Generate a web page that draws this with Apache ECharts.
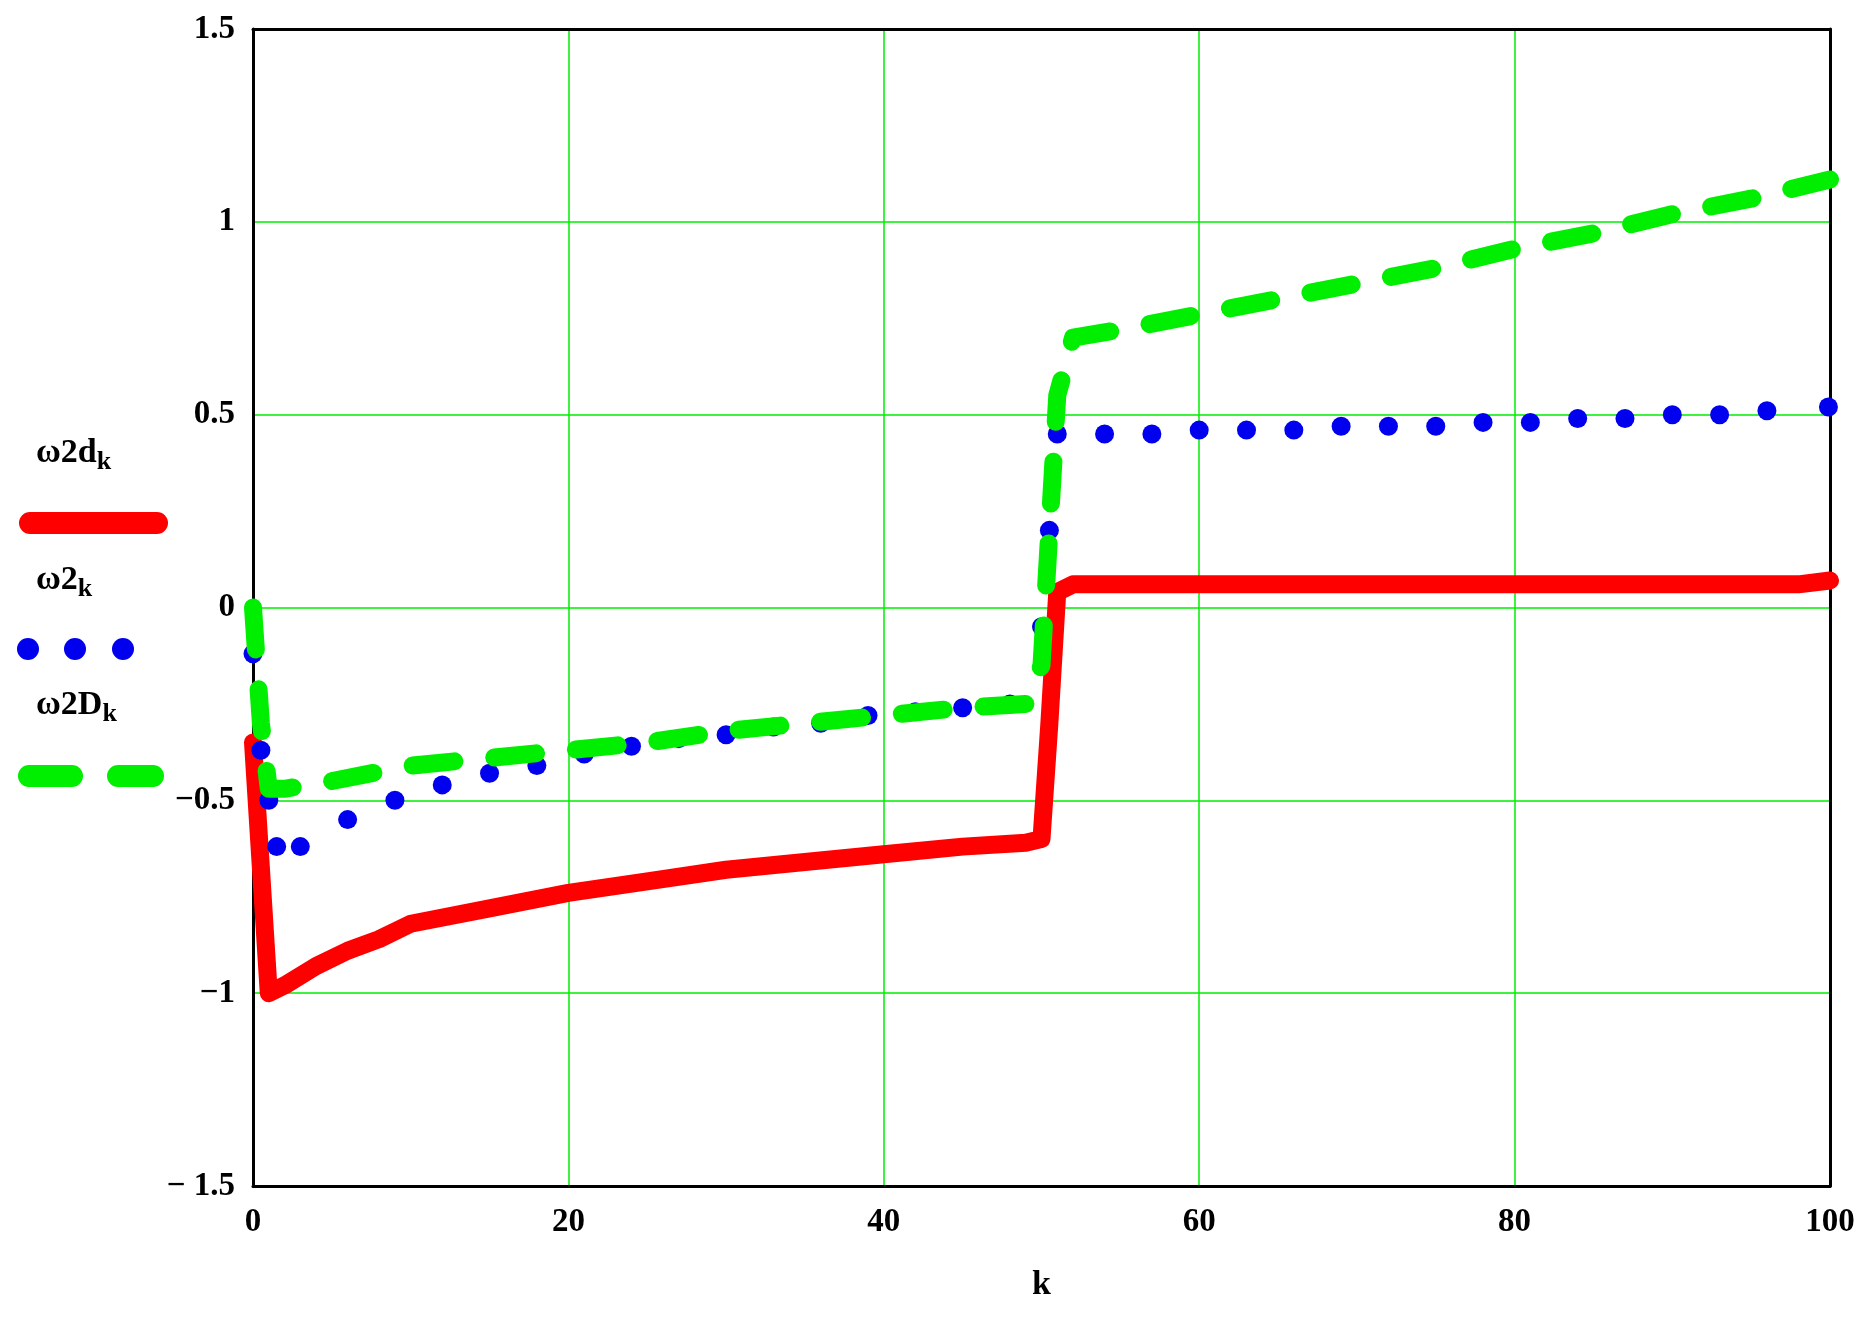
<!DOCTYPE html>
<html><head><meta charset="utf-8">
<script src="https://cdn.jsdelivr.net/npm/echarts@6/dist/echarts.min.js"></script>
<style>html,body{margin:0;padding:0;background:#fff}#c{width:1875px;height:1317px}</style>
</head><body><div id="c"></div>
<script>
const xTicks = [0, 20, 40, 60, 80, 100];
const yTicks = ['1.5', '1', '0.5', '0', '−0.5', '−1', '− 1.5'];
const redK = [0, 1, 2, 4, 6, 8, 10, 15, 20, 25, 30, 35, 40, 45, 49, 50, 50.5, 51, 52, 60, 70, 80, 90, 98, 100];
const redV = [-0.35, -1.0, -0.98, -0.93, -0.89, -0.86, -0.82, -0.78, -0.74, -0.71, -0.68, -0.66, -0.64, -0.62, -0.61, -0.60, -0.3, 0.04, 0.06, 0.06, 0.06, 0.06, 0.06, 0.06, 0.07];
const greenK = [0, 0.5, 1, 2, 5, 10, 15, 20, 25, 30, 35, 40, 45, 49, 50, 50.5, 51, 52, 55, 60, 65, 70, 75, 80, 85, 90, 95, 100];
const greenV = [0.0, -0.3, -0.47, -0.47, -0.45, -0.41, -0.39, -0.37, -0.35, -0.32, -0.30, -0.28, -0.26, -0.25, -0.15, 0.2, 0.55, 0.70, 0.72, 0.76, 0.80, 0.84, 0.88, 0.93, 0.97, 1.02, 1.06, 1.11];
const blueK = [0, 0.5, 1, 1.5, 3, 6, 9, 12, 15, 18, 21, 24, 27, 30, 33, 36, 39, 42, 45, 48, 50, 50.5, 51, 54, 57, 60, 63, 66, 69, 72, 75, 78, 81, 84, 87, 90, 93, 96, 99.9];
const blueV = [-0.12, -0.37, -0.5, -0.62, -0.62, -0.55, -0.5, -0.46, -0.43, -0.41, -0.38, -0.36, -0.34, -0.33, -0.31, -0.30, -0.28, -0.27, -0.26, -0.25, -0.05, 0.2, 0.45, 0.45, 0.45, 0.46, 0.46, 0.46, 0.47, 0.47, 0.47, 0.48, 0.48, 0.49, 0.49, 0.50, 0.50, 0.51, 0.52];
const legendNames = ['ω2d', 'ω2', 'ω2D'];

const zip = (a, b) => a.map((x, i) => [x, b[i]]);
const F = 'Liberation Serif';
const chart = echarts.init(document.getElementById('c'));
const lt = (t, y) => ({type: 'text', left: 36, top: y, style: {
  text: '{a|' + t + '}{s|k}', rich: {a: {fontFamily: F, fontWeight: 'bold', fontSize: 34, fill: '#000'},
  s: {fontFamily: F, fontWeight: 'bold', fontSize: 26, fill: '#000', padding: [18, 0, 0, 0]}}}});
const frame = {show: true, onZero: false, lineStyle: {color: '#000', width: 3}};
const grid = {lineStyle: {color: '#00ee00', width: 1.5}};
const lab = {fontFamily: F, fontWeight: 'bold', fontSize: 33, color: '#000'};
chart.setOption({
  animation: false,
  grid: {left: 253, right: 45, top: 29, bottom: 131},
  xAxis: [{type: 'value', min: 0, max: 100, interval: 20, name: 'k', nameLocation: 'middle', nameGap: 82,
    nameTextStyle: {fontFamily: F, fontWeight: 'bold', fontSize: 34, color: '#000'},
    axisLine: frame, axisTick: {show: false},
    axisLabel: Object.assign({margin: 20}, lab), splitLine: grid},
    {type: 'value', position: 'top', min: 0, max: 100, interval: 20, axisLine: frame,
     axisTick: {show: false}, axisLabel: {show: false}, splitLine: {show: false}}],
  yAxis: [{type: 'value', min: -1.5, max: 1.5, interval: 0.5,
    axisLine: frame, axisTick: {show: false},
    axisLabel: Object.assign({margin: 18, formatter: v => yTicks[Math.round((1.5 - v) / 0.5)]}, lab),
    splitLine: grid},
    {type: 'value', position: 'right', min: -1.5, max: 1.5, interval: 0.5, axisLine: frame,
     axisTick: {show: false}, axisLabel: {show: false}, splitLine: {show: false}}],
  series: [
    {type: 'line', data: zip(redK, redV), symbol: 'none', z: 3,
      lineStyle: {color: '#ff0000', width: 18, cap: 'round', join: 'round'}},
    {type: 'scatter', data: zip(blueK, blueV), symbol: 'circle', symbolSize: 19, z: 4,
      itemStyle: {color: '#0000ee', opacity: 1}},
    {type: 'line', data: zip(greenK, greenV), symbol: 'none', z: 5,
      lineStyle: {color: '#00ee00', width: 18, type: [42, 40], cap: 'round', join: 'round'}}
  ],
  graphic: [
    lt(legendNames[0], 436),
    {type: 'line', shape: {x1: 30, y1: 523, x2: 157, y2: 523}, style: {stroke: '#ff0000', lineWidth: 22, lineCap: 'round'}},
    lt(legendNames[1], 563),
    {type: 'circle', shape: {cx: 28, cy: 649, r: 11}, style: {fill: '#0000ee'}},
    {type: 'circle', shape: {cx: 75, cy: 649, r: 11}, style: {fill: '#0000ee'}},
    {type: 'circle', shape: {cx: 123, cy: 649, r: 11}, style: {fill: '#0000ee'}},
    lt(legendNames[2], 688),
    {type: 'line', shape: {x1: 29, y1: 776, x2: 72, y2: 776}, style: {stroke: '#00ee00', lineWidth: 22, lineCap: 'round'}},
    {type: 'line', shape: {x1: 118, y1: 776, x2: 153, y2: 776}, style: {stroke: '#00ee00', lineWidth: 22, lineCap: 'round'}}
  ]
});
</script></body></html>
